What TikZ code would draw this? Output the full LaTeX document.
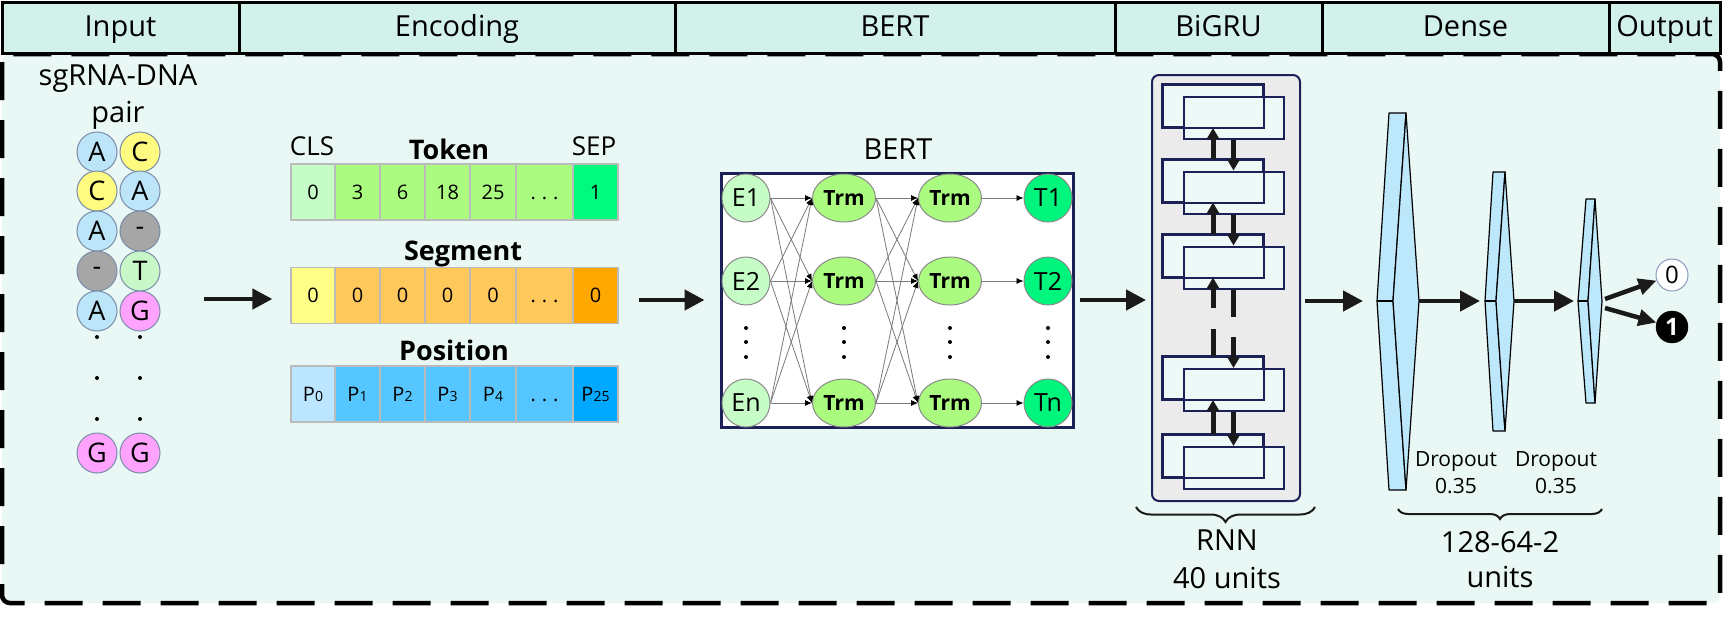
\documentclass[tikz,border=0pt]{standalone}
\usepackage{fontspec}
\setmainfont{Open Sans}
\usetikzlibrary{arrows.meta,shapes.geometric,decorations.pathreplacing}

% Colours
\definecolor{headfill}{HTML}{D2F1EA}
\definecolor{panelfill}{HTML}{E9F8F5}
\definecolor{ntring}{HTML}{7A8CA8}
\definecolor{ntA}{HTML}{BDE5FA}
\definecolor{ntC}{HTML}{FFFB80}
\definecolor{ntGap}{HTML}{A6A6A6}
\definecolor{ntT}{HTML}{C8F8C8}
\definecolor{ntG}{HTML}{FFA3FF}
\definecolor{cellgray}{HTML}{BBBBBB}
\definecolor{tokcls}{HTML}{C6FCC6}
\definecolor{tokmid}{HTML}{AAFB7F}
\definecolor{toksep}{HTML}{00FA7D}
\definecolor{segfirst}{HTML}{FFFF88}
\definecolor{segmid}{HTML}{FFC85A}
\definecolor{seglast}{HTML}{FFA800}
\definecolor{posfirst}{HTML}{BCE6FF}
\definecolor{posmid}{HTML}{55C6FF}
\definecolor{poslast}{HTML}{00A9FF}
\definecolor{nodegray}{HTML}{8A8A8A}
\definecolor{meshgray}{HTML}{7A7A7A}
\definecolor{toutfill}{HTML}{00F57C}
\definecolor{navy}{HTML}{1B2157}
\definecolor{gruboxfill}{HTML}{EBEBEB}
\definecolor{grucellfill}{HTML}{EEF9F7}
\definecolor{densefill}{HTML}{BDE7FB}
\definecolor{arrowblack}{HTML}{1A1A1A}
\definecolor{zeroring}{HTML}{8A9AC0}

\newcommand{\pidx}[1]{P{\fontsize{14}{14}\selectfont #1}}
\newcommand{\celldots}{.\hspace{6pt}.\hspace{6pt}.}

% Dense layer: name, left tip, top left, top right, inner middle, right tip, top, bottom
\newcommand{\denselayer}[8]{%
  \filldraw[denseface] (#2,301) -- (#3,#7) -- (#4,#7) -- (#5,301) -- (#4,#8) -- (#3,#8) -- cycle;
  \filldraw[denseface] (#4,#7) -- (#6,301) -- (#4,#8) -- (#5,301) -- cycle;
  \draw[denseface] (#2,301) -- (#5,301);
  \coordinate (#1-l) at (#2,301);
  \coordinate (#1-r) at (#6,301);
}

\tikzset{
  hdr/.style={draw=black, line width=3pt, fill=headfill, inner sep=0pt,
    minimum height=51pt, text height=21pt, text depth=4pt,
    font=\fontsize{29}{29}\selectfont},
  toplabel/.style={anchor=base, inner sep=0pt, font=\fontsize{29}{29}\selectfont},
  nt/.style={circle, draw=ntring, line width=1pt, minimum size=40pt,
    inner sep=0pt, font=\fontsize{27}{27}\selectfont},
  enccell/.style={draw=cellgray, line width=1.2pt, minimum height=56pt,
    inner sep=0pt, text height=14.3pt, text depth=0pt, font=\fontsize{20}{20}\selectfont},
  rowtitle/.style={anchor=base, inner sep=0pt, font=\bfseries\fontsize{27}{27}\selectfont},
  celltag/.style={anchor=base, inner sep=0pt, font=\fontsize{26}{26}\selectfont},
  bigarrow/.style={draw=arrowblack, line width=4.5pt, -{Triangle[length=20pt,width=20pt]}},
  emb/.style={circle, draw=nodegray, line width=1pt, fill=tokcls, minimum size=48pt,
    inner sep=0pt, font=\fontsize{25}{25}\selectfont},
  trm/.style={ellipse, draw=nodegray, line width=1pt, fill=tokmid, minimum width=63pt,
    minimum height=48pt, inner sep=0pt, font=\bfseries\fontsize{21}{21}\selectfont},
  tout/.style={emb, fill=toutfill},
  mesh/.style={draw=meshgray, line width=0.8pt, -{Latex[length=7pt,width=6pt,color=black]}},
  grubox/.style={draw=navy, line width=2pt, fill=gruboxfill, rounded corners=7pt,
    minimum width=148pt, minimum height=426pt},
  grucell/.style={draw=navy, line width=2pt, fill=grucellfill, minimum width=100pt,
    minimum height=42pt, inner sep=0pt},
  gruarrow/.style={draw=arrowblack, line width=5pt, -{Triangle[length=11pt,width=12pt]}},
  gruline/.style={draw=arrowblack, line width=5pt},
  denseface/.style={draw=black, line width=1.2pt, fill=densefill, line join=round},
  outarrow/.style={draw=arrowblack, line width=4.5pt, -{Triangle[length=18pt,width=16pt]}},
  bracket/.style={draw=arrowblack, line width=2pt, decorate,
    decoration={brace, mirror, amplitude=#1}},
  droptext/.style={anchor=base, inner sep=0pt, font=\fontsize{21}{21}\selectfont},
}

\begin{document}
\begin{tikzpicture}[x=1pt,y=-1pt]
  \useasboundingbox (0,0) rectangle (1725,625);

  % Dashed panel
  \draw[line width=4.5pt, dash pattern=on 38pt off 20pt, rounded corners=8pt,
    fill=panelfill] (2,54) rectangle (1720,603);

  % Header row
  \foreach \n/\xa/\xb/\t in {input/2/239/Input, enc/239/675/Encoding, bert/675/1115/BERT,
      bigru/1115/1322/BiGRU, dense/1322/1609/Dense, out/1609/1720/Output}
    \node[hdr, minimum width={\xb-\xa}] (h-\n) at ({(\xa+\xb)/2},27.5) {\t};

  % Input: sgRNA-DNA pair
  \node[toplabel] (pairtitle) at (118,85) {sgRNA-DNA};
  \node[toplabel] (pairtitle2) at (118,122) {pair};
  \foreach \r/\y/\a/\ca/\b/\cb in {1/152/A/ntA/C/ntC, 2/191/C/ntC/A/ntA, 3/231/A/ntA/-/ntGap,
      4/271/-/ntGap/T/ntT, 5/311/A/ntA/G/ntG, 6/453/G/ntG/G/ntG} {
    \node[nt, fill=\ca] (sg-\r) at (97,\y) {\a};
    \node[nt, fill=\cb] (dna-\r) at (140,\y) {\b};
  }
  \foreach \y in {337,378,419} {
    \fill (97,\y) circle (2pt);
    \fill (140,\y) circle (2pt);
  }

  % Encoding: token, segment, position rows
  \foreach \i/\cx/\w/\t/\c in {1/313/44/0/tokcls, 2/357.5/45/3/tokmid, 3/402.5/45/6/tokmid,
      4/447.5/45/18/tokmid, 5/493/46/25/tokmid, 6/544.5/57/\celldots/tokmid,
      7/595.5/45/1/toksep}
    \node[enccell, fill=\c, minimum width=\w] (tok-\i) at (\cx,192) {\t};
  \foreach \i/\cx/\w/\t/\c in {1/313/44/0/segfirst, 2/357.5/45/0/segmid, 3/402.5/45/0/segmid,
      4/447.5/45/0/segmid, 5/493/46/0/segmid, 6/544.5/57/\celldots/segmid,
      7/595.5/45/0/seglast}
    \node[enccell, fill=\c, minimum width=\w] (seg-\i) at (\cx,295.5) {\t};
  \foreach \i/\cx/\w/\t/\c in {1/313/44/\pidx{0}/posfirst, 2/357.5/45/\pidx{1}/posmid,
      3/402.5/45/\pidx{2}/posmid, 4/447.5/45/\pidx{3}/posmid, 5/493/46/\pidx{4}/posmid,
      6/544.5/57/\celldots/posmid, 7/595.5/45/\pidx{25}/poslast}
    \node[enccell, fill=\c, minimum width=\w] (pos-\i) at (\cx,394) {\t};
  \node[celltag] (cls) at (312,155) {CLS};
  \node[rowtitle] (toktitle) at (449,159) {Token};
  \node[celltag] (sep) at (594,155) {SEP};
  \node[rowtitle] (segtitle) at (463,260) {Segment};
  \node[rowtitle] (postitle) at (454,360) {Position};

  % Input -> Encoding
  \coordinate (pairout) at (204,299);
  \draw[bigarrow, shorten >=18pt] (pairout) -- (pairout -| tok-1.west);

  % BERT block
  \node[toplabel] (berttitle) at (898,159) {BERT};
  \node[draw=navy, line width=3pt, fill=white, minimum width=352pt, minimum height=254pt]
    (bert) at (897,300) {};
  \foreach \r/\y/\s in {1/198/1, 2/281/2, n/403/n} {
    \node[emb] (e\r) at (746,\y) {E\s};
    \node[trm] (ta\r) at (844,\y) {Trm};
    \node[trm] (tb\r) at (950,\y) {Trm};
    \node[tout] (t\r) at (1048,\y) {T\s};
  }
  \foreach \i in {1,2,n}
    \foreach \j in {1,2,n} {
      \draw[mesh] (e\i.east) -- (ta\j.west);
      \draw[mesh] (ta\i.east) -- (tb\j.west);
    }
  \foreach \i in {1,2,n}
    \draw[mesh] (tb\i.east) -- (t\i.west);
  \foreach \x in {746,844,950,1048}
    \foreach \y in {328,342,357}
      \fill (\x,\y) circle (2pt);

  % Encoding -> BERT
  \draw[bigarrow, shorten <=20pt, shorten >=15pt] (bert.west -| seg-7.east) -- (bert.west);

  % BiGRU block
  \node[grubox] (gru) at (1226,288) {};
  \foreach \k/\y in {1/106, 2/180.5, 3/255.5, 4/378, 5/456} {
    \node[grucell] (gb\k) at (1213,\y) {};
    \node[grucell] (gf\k) at (1233.5,\y+12) {};
    \draw[navy, line width=2pt] (gb\k.north west) rectangle (gb\k.south east);
  }
  \foreach \a/\b in {1/2, 2/3, 4/5} {
    \draw[gruarrow] (gb\b.north) -- (gb\a.south);
    \draw[gruarrow] (gf\a.south) -- (gf\b.north);
  }
  % broken links between cell 3 and cell 4
  \coordinate (gapup) at (1213,308);
  \coordinate (gapdown) at (1233.5,317);
  \coordinate (gapup2) at (1213,329);
  \coordinate (gapdown2) at (1233.5,337);
  \draw[gruarrow] (gapup) -- (gb3.south);
  \draw[gruline] (gf3.south) -- (gapdown);
  \draw[gruline] (gb4.north) -- (gapup2);
  \draw[gruarrow] (gapdown2) -- (gf4.north);

  % BERT -> BiGRU
  \draw[bigarrow, shorten <=5pt, shorten >=5pt] (bert.east) -- (bert.east -| gru.west);

  \draw[bracket=15pt] (1136,507) -- (1315,507);
  \node[toplabel] (rnn) at (1227,550) {RNN};
  \node[toplabel] (rnnunits) at (1227,588) {40 units};

  % Dense layers
  \denselayer{d1}{1377}{1389}{1406}{1393}{1419}{113}{490}
  \denselayer{d2}{1485}{1493}{1505}{1496}{1514}{172}{431}
  \denselayer{d3}{1578}{1586}{1595}{1588}{1602}{199}{403}
  \draw[bigarrow, shorten <=4pt, shorten >=14pt] (gru.east |- d1-l) -- (d1-l);
  \draw[bigarrow, shorten >=5pt] (d1-r) -- (d2-l);
  \draw[bigarrow, shorten >=4pt] (d2-r) -- (d3-l);

  \node[droptext] (drop1) at (1456,466) {Dropout};
  \node[droptext] (drop1v) at (1456,493) {0.35};
  \node[droptext] (drop2) at (1556,466) {Dropout};
  \node[droptext] (drop2v) at (1556,493) {0.35};
  \draw[bracket=10pt] (1398,509) -- (1602,509);
  \node[toplabel] (dunits) at (1500,552) {128-64-2};
  \node[toplabel] (dunits2) at (1500,587) {units};

  % Output
  \node[circle, draw=zeroring, line width=1pt, fill=white, minimum size=32pt, inner sep=0pt,
    font=\fontsize{24}{24}\selectfont] (o0) at (1672,275) {0};
  \node[circle, draw=black, fill=black, text=white, minimum size=32pt, inner sep=0pt,
    font=\bfseries\fontsize{24}{24}\selectfont] (o1) at (1672,327) {1};
  \coordinate (d3-oa) at (1605,299);
  \coordinate (d3-ob) at (1605,308);
  \draw[outarrow] (d3-oa) -- (o0);
  \draw[outarrow] (d3-ob) -- (o1);

\end{tikzpicture}
\end{document}
